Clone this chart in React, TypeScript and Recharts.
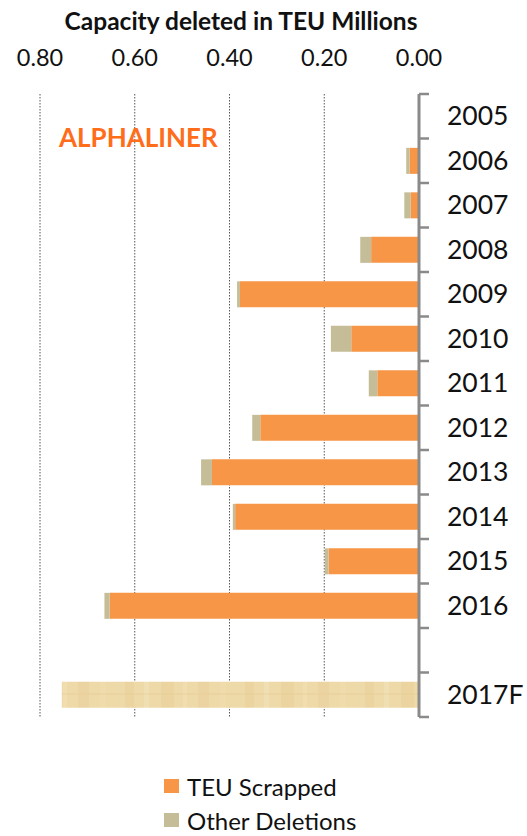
import React from "react";
import { Bar, BarChart, CartesianGrid, XAxis, YAxis } from "recharts";

const years = ["2005", "2006", "2007", "2008", "2009", "2010", "2011", "2012", "2013", "2014", "2015", "2016", "", "2017F"];
const teuScrapped = [0, 0.02, 0.0175, 0.101, 0.378, 0.143, 0.088, 0.335, 0.437, 0.388, 0.191, 0.653, 0, 0];
const otherDeletions = [0, 0.007, 0.0135, 0.023, 0.006, 0.043, 0.018, 0.017, 0.023, 0.005, 0.008, 0.011, 0, 0];
const forecast2017 = [0, 0, 0, 0, 0, 0, 0, 0, 0, 0, 0, 0, 0, 0.754];
const xTicks = [0, 0.2, 0.4, 0.6, 0.8];

const data = years.map((year, i) => ({
  year,
  scrapped: teuScrapped[i],
  other: otherDeletions[i],
  forecast: forecast2017[i],
}));

const legendItems = [
  { name: "TEU Scrapped", color: "#F79646" },
  { name: "Other Deletions", color: "#C4BD97" },
];

const W = 527;
const H = 836;
const TOP = 94;
const BOTTOM = 717;
const BAND = (BOTTOM - TOP) / years.length;
const FONT = "Lato, 'Open Sans', sans-serif";

const XTick = (props: any) => {
  const { x, y, payload } = props;
  return (
    <text x={x} y={y - 20} textAnchor="middle" fontFamily={FONT} fontSize={23.5} fill="#111">
      {Number(payload.value).toFixed(2)}
    </text>
  );
};

const YTick = (props: any) => {
  const { x, y, payload, index } = props;
  const last = index === years.length - 1;
  return (
    <g>
      <line x1={x} x2={x + 10} y1={y - BAND / 2} y2={y - BAND / 2} stroke="#8a8a8a" strokeWidth={2.5} />
      {last && <line x1={x} x2={x + 10} y1={y + BAND / 2} y2={y + BAND / 2} stroke="#8a8a8a" strokeWidth={2.5} />}
      <text x={x + 28} y={y + 9} textAnchor="start" fontFamily={FONT} fontSize={26.5} fill="#111">
        {payload.value}
      </text>
    </g>
  );
};

export default function App() {
  return (
    <div style={{ position: "absolute", left: 0, top: 0, width: W, height: H, background: "#fff" }}>
      <BarChart
        width={W}
        height={H}
        data={data}
        layout="vertical"
        barCategoryGap="21%"
        margin={{ top: 44, right: 0, left: 40, bottom: H - BOTTOM }}
      >
        <defs>
          <pattern id="papyrus" patternUnits="userSpaceOnUse" width="120" height="36">
            <rect width="120" height="36" fill="#EED9A8" />
            <rect x="5" y="0" width="9" height="36" fill="#E8CF98" opacity="0.5" />
            <rect x="24" y="0" width="5" height="36" fill="#F3E2BC" opacity="0.6" />
            <rect x="41" y="0" width="13" height="36" fill="#E6CC93" opacity="0.4" />
            <rect x="63" y="0" width="4" height="36" fill="#F2DFB6" opacity="0.6" />
            <rect x="78" y="0" width="11" height="36" fill="#E9D09C" opacity="0.5" />
            <rect x="100" y="0" width="6" height="36" fill="#F1DDB2" opacity="0.5" />
            <rect x="0" y="9" width="120" height="2" fill="#E5CB93" opacity="0.3" />
            <rect x="0" y="25" width="120" height="3" fill="#F4E4C0" opacity="0.35" />
          </pattern>
        </defs>
        <CartesianGrid horizontal={false} stroke="#555" strokeDasharray="1.5 1.5" />
        <XAxis
          type="number"
          domain={[0, 0.8]}
          ticks={xTicks}
          reversed
          orientation="top"
          height={50}
          axisLine={false}
          tickLine={false}
          tick={<XTick />}
          interval={0}
        />
        <YAxis
          type="category"
          dataKey="year"
          orientation="right"
          width={108}
          axisLine={{ stroke: "#8a8a8a", strokeWidth: 3 }}
          tickLine={false}
          tickSize={0}
          tickMargin={0}
          tick={<YTick />}
          interval={0}
        />
        <Bar dataKey="scrapped" name="TEU Scrapped" stackId="a" fill="#F79646" isAnimationActive={false} />
        <Bar dataKey="other" name="Other Deletions" stackId="a" fill="#C4BD97" isAnimationActive={false} />
        <Bar dataKey="forecast" name="2017F" stackId="a" fill="url(#papyrus)" isAnimationActive={false} />
      </BarChart>
      <svg width={W} height={H} style={{ position: "absolute", left: 0, top: 0, pointerEvents: "none" }}>
        <text x={241} y={30} textAnchor="middle" fontFamily={FONT} fontWeight="bold" fontSize={24.5} fill="#111">
          Capacity deleted in TEU Millions
        </text>
        <text x={59} y={147} fontFamily={FONT} fontWeight="bold" fontSize={26} fill="#FF6C1A">
          ALPHALINER
        </text>
      </svg>
      <div style={{ position: "absolute", left: 164, top: 769, fontFamily: FONT, fontSize: 24, color: "#111" }}>
        {legendItems.map((it) => (
          <div key={it.name} style={{ display: "flex", alignItems: "center", height: 34 }}>
            <span style={{ display: "inline-block", width: 15, height: 14, background: it.color, marginRight: 8 }} />
            <span>{it.name}</span>
          </div>
        ))}
      </div>
    </div>
  );
}
